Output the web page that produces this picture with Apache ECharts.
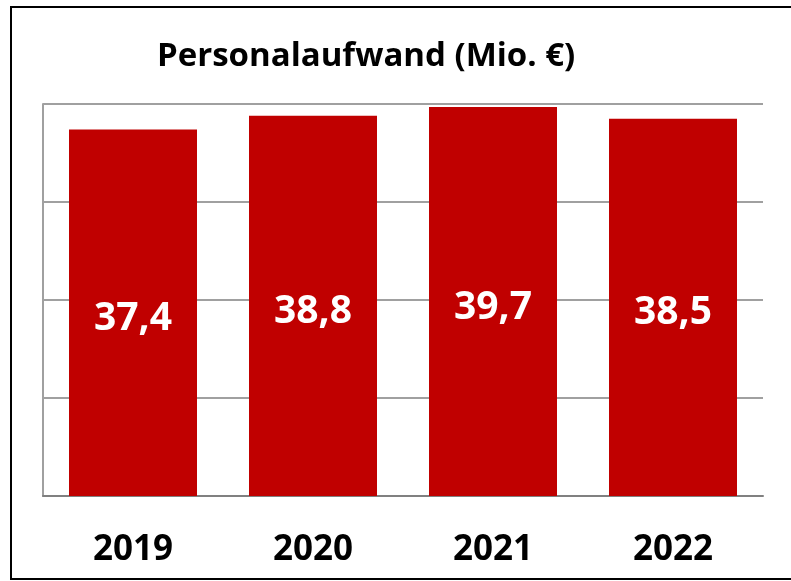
<!DOCTYPE html>
<html>
<head>
<meta charset="utf-8">
<script src="https://cdn.jsdelivr.net/npm/echarts@6/dist/echarts.min.js"></script>
<style>
  html, body { margin: 0; padding: 0; background: #fff; }
  #chart { width: 791px; height: 581px; }
</style>
</head>
<body>
<div id="chart"></div>
<script>
var years = ['2019', '2020', '2021', '2022'];
var personalaufwand = [37.4, 38.8, 39.7, 38.5];

var chart = echarts.init(document.getElementById('chart'));
var font = '"Open Sans", "Noto Sans", sans-serif';

chart.setOption({
  animation: false,
  title: {
    text: 'Personalaufwand (Mio. €)',
    left: 152,
    top: 35,
    textStyle: { fontFamily: font, fontWeight: 'bold', fontSize: 33, color: '#000' }
  },
  graphic: [{
    type: 'rect',
    shape: { x: 11, y: 7, width: 800, height: 572 },
    style: { fill: 'none', stroke: '#000', lineWidth: 2 },
    silent: true
  }],
  grid: { left: 43, right: 28, top: 104, bottom: 85 },
  xAxis: {
    type: 'category',
    data: years,
    axisLine: { lineStyle: { color: '#808080', width: 2 } },
    axisTick: { show: false },
    axisLabel: { margin: 37, fontFamily: font, fontWeight: 'bold', fontSize: 35, color: '#000' }
  },
  yAxis: {
    type: 'value',
    min: 0,
    max: 40,
    interval: 10,
    axisLine: { show: true, lineStyle: { color: '#a0a0a0', width: 2 } },
    axisTick: { show: false },
    axisLabel: { show: false },
    splitLine: { lineStyle: { color: '#a0a0a0', width: 2 } }
  },
  series: [{
    type: 'bar',
    data: personalaufwand,
    barWidth: 128,
    itemStyle: { color: '#c00000' },
    label: {
      show: true,
      position: 'inside',
      offset: [0, 6],
      color: '#fff',
      fontFamily: font,
      fontWeight: 'bold',
      fontSize: 39,
      formatter: function (p) { return p.value.toFixed(1).replace('.', ','); }
    }
  }]
});
</script>
</body>
</html>
